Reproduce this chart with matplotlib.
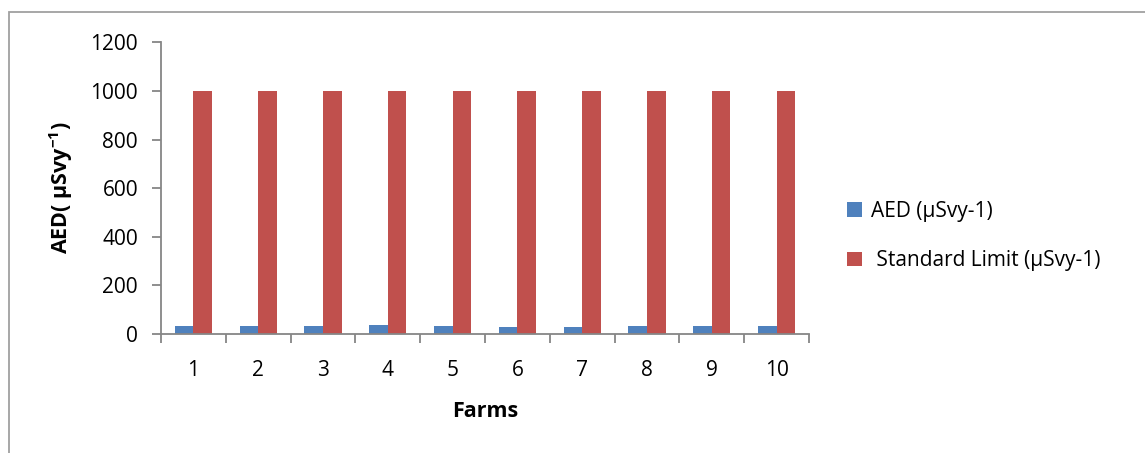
import numpy as np
import matplotlib
matplotlib.use("Agg")
import matplotlib.pyplot as plt
from matplotlib.patches import Rectangle

plt.rcParams["font.family"] = ["Open Sans", "DejaVu Sans"]
plt.rcParams["mathtext.fontset"] = "custom"
plt.rcParams["mathtext.rm"] = "Open Sans"
plt.rcParams["mathtext.bf"] = "Open Sans:bold"

farms = ["1", "2", "3", "4", "5", "6", "7", "8", "9", "10"]
aed = [33, 31, 31, 35, 31, 28, 30, 34, 31, 34]
standard_limit = [1000, 1000, 1000, 1000, 1000, 1000, 1000, 1000, 1000, 1000]

BLUE = "#4f81bd"
RED = "#c0504d"
AXIS = "#868686"

fig = plt.figure(figsize=(11.45, 4.53), dpi=100)
# outer chart-area frame (only top/left edges visible in the crop)
fig.patches.append(Rectangle((9 / 1145, -0.1), 1.2, (453 - 12) / 453 + 0.1,
                             transform=fig.transFigure, fill=False,
                             edgecolor="#a0a0a0", lw=1.3))

ax = fig.add_axes([161 / 1145, 119 / 453, 648 / 1145, 291.6 / 453])
x = np.arange(len(farms))
w = 1 / 3.5
ax.bar(x - w / 2, aed, w, color=BLUE, label="AED (µSvy-1)")
ax.bar(x + w / 2, standard_limit, w, color=RED, label=" Standard Limit (µSvy-1)")

ax.set_xlim(-0.5, len(farms) - 0.5)
ax.set_ylim(0, 1200)
ax.set_yticks(range(0, 1201, 200))
ax.set_xticks(x)
ax.set_xticklabels(farms)
ax.set_xticks(np.arange(-0.5, len(farms)), minor=True)
ax.tick_params(axis="x", which="major", length=0, labelsize=15, pad=19)
ax.tick_params(axis="x", which="minor", length=6.5, width=1.3, color=AXIS, direction="out")
ax.tick_params(axis="y", length=6.5, width=1.3, color=AXIS, labelsize=15, pad=10)

for s in ["top", "right"]:
    ax.spines[s].set_visible(False)
for s in ["left", "bottom"]:
    ax.spines[s].set_color(AXIS)
    ax.spines[s].set_linewidth(1.3)

ax.set_xlabel("Farms", fontsize=15.5, fontweight="bold")
ax.xaxis.set_label_coords(0.5, -0.229)
ax.set_ylabel("AED( µSvy$^{\\mathbf{-1}}$)", fontsize=15.5, fontweight="bold")
ax.yaxis.set_label_coords(-0.132, 0.5)

ax.legend(loc="center left", bbox_to_anchor=(1.03, 0.336), frameon=False,
          fontsize=15, handlelength=0.7, handleheight=0.7, handletextpad=0.45,
          labelspacing=1.35)

fig.savefig("out.png", dpi=100)
